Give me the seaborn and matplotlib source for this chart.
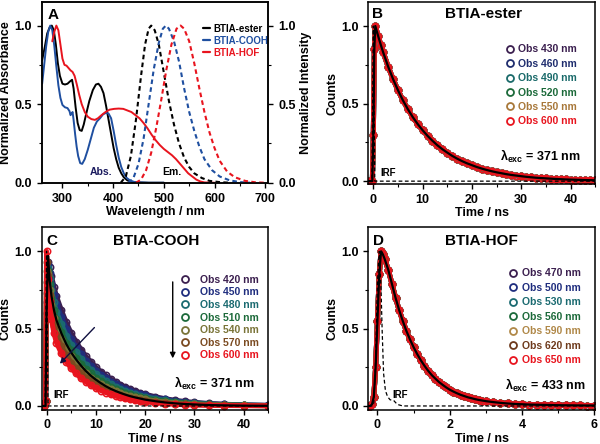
import matplotlib
matplotlib.use('Agg')
import matplotlib.pyplot as plt
from matplotlib.lines import Line2D
from matplotlib.ticker import MultipleLocator
import seaborn as sns

# ---------------- panel A: absorption (solid) / emission (dashed) ----------------
ester_abs_nm = [260, 265, 270, 275, 279, 283, 287, 291, 295, 300, 305, 310, 315, 319, 322, 326, 330, 334, 338,
                342, 347, 353, 360, 366, 371, 376, 381, 386, 391, 396, 401, 406, 411, 416, 421, 428, 436, 450, 470, 500]
ester_abs = [0.78, 0.86, 0.95, 0.99, 1.0, 0.97, 0.88, 0.76, 0.68, 0.63, 0.625, 0.63, 0.645, 0.655, 0.6, 0.48, 0.38,
             0.335, 0.33, 0.37, 0.44, 0.52, 0.59, 0.625, 0.63, 0.61, 0.57, 0.49, 0.40, 0.31, 0.22, 0.15, 0.095, 0.06,
             0.035, 0.015, 0.006, 0.002, 0.0, 0.0]
cooh_abs_nm = [260, 264, 268, 272, 276, 280, 284, 288, 292, 296, 300, 305, 310, 314, 316, 318, 320, 322, 325, 328,
               331, 335, 339, 344, 350, 356, 362, 368, 374, 380, 386, 391, 396, 401, 406, 411, 416, 421, 427, 434,
               442, 455, 470, 500]
cooh_abs = [0.63, 0.75, 0.87, 0.96, 1.0, 0.97, 0.87, 0.74, 0.62, 0.54, 0.495, 0.48, 0.475, 0.455, 0.43, 0.44, 0.45,
            0.40, 0.31, 0.23, 0.17, 0.125, 0.12, 0.15, 0.21, 0.28, 0.35, 0.39, 0.41, 0.435, 0.445, 0.44, 0.41, 0.33,
            0.24, 0.16, 0.10, 0.06, 0.03, 0.013, 0.005, 0.002, 0.0, 0.0]
hof_abs_nm = [280, 284, 288, 292, 296, 300, 304, 308, 312, 316, 320, 324, 328, 333, 338, 344, 350, 357, 364, 370,
              377, 385, 393, 402, 411, 420, 428, 436, 444, 452, 460, 468, 476, 484, 492, 500, 508, 516, 524, 532,
              540, 548, 556, 564, 572, 580, 600]
hof_abs = [0.9, 0.96, 1.0, 0.97, 0.88, 0.79, 0.75, 0.745, 0.73, 0.715, 0.705, 0.68, 0.63, 0.56, 0.5, 0.45, 0.42,
           0.405, 0.40, 0.41, 0.43, 0.45, 0.465, 0.47, 0.472, 0.47, 0.46, 0.45, 0.43, 0.41, 0.38, 0.345, 0.305,
           0.27, 0.24, 0.215, 0.195, 0.175, 0.15, 0.12, 0.09, 0.06, 0.04, 0.02, 0.008, 0.002, 0.0]

ester_em_nm = [415, 425, 435, 445, 455, 463, 470, 475, 482, 490, 500, 510, 520, 530, 540, 550, 560, 575, 590, 610, 630]
ester_em = [0.0, 0.04, 0.17, 0.40, 0.68, 0.88, 0.98, 1.0, 0.97, 0.88, 0.70, 0.52, 0.37, 0.25, 0.16, 0.10, 0.06,
            0.03, 0.012, 0.004, 0.0]
cooh_em_nm = [430, 440, 450, 460, 470, 480, 490, 498, 504, 510, 520, 530, 540, 550, 560, 570, 580, 595, 610, 630,
              650, 670]
cooh_em = [0.0, 0.03, 0.12, 0.28, 0.50, 0.72, 0.89, 0.98, 1.0, 0.98, 0.90, 0.77, 0.60, 0.45, 0.33, 0.23, 0.15,
           0.08, 0.04, 0.015, 0.004, 0.0]
hof_em_nm = [445, 455, 465, 475, 485, 495, 505, 515, 525, 533, 540, 550, 560, 570, 580, 590, 600, 610, 625, 640,
             660, 680, 700]
hof_em = [0.0, 0.02, 0.08, 0.19, 0.35, 0.53, 0.72, 0.88, 0.98, 1.0, 0.98, 0.90, 0.76, 0.60, 0.45, 0.32, 0.22,
          0.14, 0.07, 0.035, 0.012, 0.003, 0.0]

# ---------------- panel B: BTIA-ester decays ----------------
b_time = [-1, -0.5, -0.2, 0, 0.2, 0.4, 1, 1.5, 2, 3, 4, 5, 6, 7, 8, 9, 10, 11, 12, 13, 14, 15, 16, 17, 18, 19, 20,
          21, 22, 23, 24, 25, 26, 27, 28, 29, 30, 31, 32, 33, 34, 35, 36, 37, 38, 39, 40, 41, 42, 43, 44, 45]
b_counts = [0, 0, 0.0, 0.3, 0.85, 1.0, 0.933, 0.88, 0.83, 0.739, 0.658, 0.586, 0.521, 0.464, 0.413, 0.368, 0.328,
            0.292, 0.26, 0.231, 0.206, 0.184, 0.163, 0.145, 0.129, 0.115, 0.103, 0.091, 0.081, 0.072, 0.064, 0.057,
            0.051, 0.045, 0.040, 0.036, 0.032, 0.028, 0.025, 0.022, 0.020, 0.018, 0.016, 0.014, 0.0126, 0.011,
            0.010, 0.009, 0.008, 0.007, 0.0063, 0.0056]
b_labels = ['Obs 430 nm', 'Obs 460 nm', 'Obs 490 nm', 'Obs 520 nm', 'Obs 550 nm', 'Obs 600 nm']
b_colors = ['#3b1f4f', '#1f2d6e', '#1a6a6a', '#1c6a3a', '#a8783a', '#e8141e']
b_irf_t = [-1, -0.3, 0, 0.3, 45]
b_irf = [0, 0, 1.0, 0, 0]

# ---------------- panel C: BTIA-COOH decays ----------------
c_time = [-1, -0.5, -0.2, 0, 0.3, 0.6, 1, 1.5, 2, 3, 4, 5, 6, 7, 8, 9, 10, 11, 12, 13, 14, 15, 16, 17, 18, 19, 20,
          22, 24, 26, 28, 30, 33, 36, 40, 45]
c420 = [0, 0, 0.03, 0.6, 0.93, 0.9, 0.84, 0.77, 0.71, 0.62, 0.54, 0.47, 0.415, 0.365, 0.32, 0.285, 0.25, 0.222,
        0.197, 0.175, 0.155, 0.137, 0.122, 0.108, 0.096, 0.085, 0.076, 0.06, 0.047, 0.037, 0.029, 0.023, 0.016,
        0.011, 0.007, 0.004]
c450 = [0, 0, 0.03, 0.67, 0.91, 0.86, 0.79, 0.72, 0.66, 0.575, 0.50, 0.43, 0.38, 0.334, 0.292, 0.26, 0.228, 0.201,
        0.178, 0.158, 0.14, 0.123, 0.11, 0.097, 0.086, 0.076, 0.068, 0.053, 0.042, 0.033, 0.025, 0.02, 0.014, 0.01,
        0.006, 0.0035]
c480 = [0, 0, 0.03, 0.73, 0.89, 0.83, 0.75, 0.67, 0.61, 0.53, 0.455, 0.395, 0.347, 0.304, 0.265, 0.235, 0.206,
        0.181, 0.16, 0.142, 0.125, 0.11, 0.098, 0.086, 0.076, 0.067, 0.06, 0.047, 0.036, 0.028, 0.022, 0.017, 0.012,
        0.008, 0.005, 0.003]
c510 = [0, 0, 0.03, 0.8, 0.875, 0.79, 0.70, 0.62, 0.56, 0.48, 0.41, 0.36, 0.31, 0.272, 0.238, 0.21, 0.183, 0.161,
        0.142, 0.125, 0.11, 0.097, 0.086, 0.075, 0.066, 0.058, 0.052, 0.04, 0.031, 0.024, 0.019, 0.015, 0.01, 0.007,
        0.0045, 0.0025]
c540 = [0, 0, 0.03, 0.87, 0.855, 0.75, 0.65, 0.57, 0.51, 0.43, 0.37, 0.32, 0.278, 0.241, 0.21, 0.184, 0.16, 0.14,
        0.123, 0.108, 0.095, 0.083, 0.073, 0.064, 0.056, 0.049, 0.043, 0.033, 0.026, 0.02, 0.015, 0.012, 0.008,
        0.006, 0.0035, 0.002]
c570 = [0, 0, 0.03, 0.93, 0.84, 0.72, 0.61, 0.52, 0.46, 0.385, 0.33, 0.28, 0.245, 0.21, 0.183, 0.16, 0.138, 0.12,
        0.105, 0.092, 0.08, 0.07, 0.061, 0.053, 0.046, 0.04, 0.035, 0.027, 0.02, 0.015, 0.012, 0.009, 0.006, 0.004,
        0.003, 0.0015]
c600 = [0, 0, 0.03, 1.0, 0.82, 0.68, 0.56, 0.47, 0.41, 0.34, 0.285, 0.245, 0.21, 0.18, 0.155, 0.134, 0.116, 0.1,
        0.087, 0.075, 0.065, 0.056, 0.049, 0.042, 0.036, 0.031, 0.027, 0.02, 0.015, 0.011, 0.008, 0.006, 0.004,
        0.003, 0.002, 0.001]
c_fit = [0, 0, 0, 0.6, 0.97, 0.82, 0.71, 0.62, 0.555, 0.47, 0.40, 0.345, 0.30, 0.26, 0.225, 0.195, 0.17, 0.148,
         0.128, 0.111, 0.097, 0.084, 0.073, 0.063, 0.055, 0.048, 0.041, 0.031, 0.023, 0.017, 0.013, 0.01, 0.006,
         0.004, 0.002, 0.001]
c_labels = ['Obs 420 nm', 'Obs 450 nm', 'Obs 480 nm', 'Obs 510 nm', 'Obs 540 nm', 'Obs 570 nm', 'Obs 600 nm']
c_colors = ['#3b1f4f', '#1f2d7e', '#1a6a70', '#1c6a3a', '#7a7438', '#7a4a20', '#e8141e']
c_irf_t = [-1, -0.3, 0, 0.3, 45]
c_irf = [0, 0, 1.0, 0, 0]

# ---------------- panel D: BTIA-HOF decays ----------------
d_time = [-0.25, -0.2, -0.15, -0.1, -0.05, 0, 0.05, 0.1, 0.15, 0.2, 0.3, 0.4, 0.5, 0.6, 0.7, 0.8, 0.9, 1.0, 1.1,
          1.2, 1.3, 1.4, 1.5, 1.6, 1.7, 1.8, 1.9, 2.0, 2.1, 2.2, 2.3, 2.4, 2.5, 2.6, 2.7, 2.8, 2.9, 3.0, 3.2, 3.4,
          3.6, 3.8, 4.0, 4.2, 4.4, 4.6, 4.8, 5.0, 5.2, 5.4, 5.6, 5.8, 6.0]
d_counts = [0, 0.0, 0.01, 0.06, 0.25, 0.55, 0.85, 1.0, 0.98, 0.95, 0.88, 0.79, 0.70, 0.62, 0.55, 0.485, 0.43, 0.38,
            0.335, 0.295, 0.26, 0.228, 0.2, 0.177, 0.155, 0.137, 0.12, 0.105, 0.093, 0.082, 0.072, 0.064, 0.056,
            0.05, 0.044, 0.039, 0.035, 0.031, 0.025, 0.02, 0.016, 0.013, 0.011, 0.009, 0.008, 0.007, 0.006, 0.005,
            0.0045, 0.004, 0.0035, 0.003, 0.003]
d_labels = ['Obs 470 nm', 'Obs 500 nm', 'Obs 530 nm', 'Obs 560 nm', 'Obs 590 nm', 'Obs 620 nm', 'Obs 650 nm']
d_colors = ['#3b1f4f', '#1f2d7e', '#1a6a70', '#1c6a3a', '#b08848', '#6e3a1c', '#e8141e']
d_irf_t = [-0.25, -0.15, -0.1, -0.05, 0, 0.05, 0.1, 0.13, 0.17, 0.22, 0.28, 0.35, 0.45, 0.55, 0.7, 6.0]
d_irf = [0, 0, 0.02, 0.3, 0.8, 1.0, 0.75, 0.49, 0.21, 0.1, 0.06, 0.04, 0.035, 0.01, 0, 0]

BLACK, BLUE, RED = '#000000', '#1f4fa0', '#e8141e'

sns.set_style('ticks', {'axes.edgecolor': 'black', 'xtick.color': 'black', 'ytick.color': 'black',
                        'text.color': 'black', 'axes.labelcolor': 'black'})
plt.rcParams['font.family'] = ['Liberation Sans', 'DejaVu Sans']
plt.rcParams['font.weight'] = 'bold'
plt.rcParams['axes.labelweight'] = 'bold'
plt.rcParams['axes.linewidth'] = 1.1
plt.rcParams['xtick.major.width'] = 1.0
plt.rcParams['ytick.major.width'] = 1.0
plt.rcParams['xtick.minor.width'] = 0.8
plt.rcParams['ytick.minor.width'] = 0.8
plt.rcParams['xtick.major.size'] = 3.5
plt.rcParams['ytick.major.size'] = 3.5
plt.rcParams['xtick.minor.size'] = 2
plt.rcParams['ytick.minor.size'] = 2
plt.rcParams['xtick.labelsize'] = 9
plt.rcParams['ytick.labelsize'] = 9
plt.rcParams['axes.labelsize'] = 9
plt.rcParams['mathtext.fontset'] = 'custom'
plt.rcParams['mathtext.rm'] = 'Liberation Sans:bold'
plt.rcParams['mathtext.bf'] = 'Liberation Sans:bold'

fig = plt.figure(figsize=(6, 4.44), dpi=100)
axA = fig.add_axes([0.0694, 0.587, 0.3778, 0.4085])
axB = fig.add_axes([0.614, 0.585, 0.378, 0.4105])
axC = fig.add_axes([0.0694, 0.0773, 0.3778, 0.4114])
axD = fig.add_axes([0.614, 0.0773, 0.378, 0.4114])

# ----- panel A -----
axA2 = axA.twinx()
for nm, val, c in [(ester_abs_nm, ester_abs, BLACK), (cooh_abs_nm, cooh_abs, BLUE), (hof_abs_nm, hof_abs, RED)]:
    sns.lineplot(x=nm, y=val, ax=axA, color=c, lw=1.4)
for nm, val, c in [(ester_em_nm, ester_em, BLACK), (cooh_em_nm, cooh_em, BLUE), (hof_em_nm, hof_em, RED)]:
    sns.lineplot(x=nm, y=val, ax=axA2, color=c, lw=1.5, linestyle=(0, (2.2, 1.6)))
for a in (axA, axA2):
    a.set_xlim(259, 706)
    a.set_ylim(-0.004, 1.15)
    a.yaxis.set_major_locator(MultipleLocator(0.5))
    a.yaxis.set_minor_locator(MultipleLocator(0.25))
    a.yaxis.set_major_formatter(matplotlib.ticker.FormatStrFormatter('%.1f'))
axA.xaxis.set_major_locator(MultipleLocator(100))
axA.xaxis.set_minor_locator(MultipleLocator(50))
axA.set_xlabel('Wavelength / nm', labelpad=1)
axA.set_ylabel('Normalized Absorbance', labelpad=2)
axA2.set_ylabel('Normalized Intensity', labelpad=3)
hA = [Line2D([], [], color=c, lw=1.6) for c in (BLACK, BLUE, RED)]
axA.legend(hA, ['BTIA-ester', 'BTIA-COOH', 'BTIA-HOF'], loc='upper left', bbox_to_anchor=(0.71, 0.88),
           frameon=False, fontsize=7, labelcolor=[BLACK, BLUE, RED], handlelength=0.8, handletextpad=0.35,
           labelspacing=0.2, borderpad=0, borderaxespad=0)
axA.text(377, 0.07, 'Abs.', color='#1a1a5e', fontsize=7.5, ha='center', va='center')
axA.text(515, 0.07, 'Em.', color='black', fontsize=7.5, ha='center', va='center')
axA.text(0.028, 0.967, 'A', transform=axA.transAxes, fontsize=11, va='top', ha='left')


def decay_panel(ax, t, series, colors, fit_t, fit_y, irf_t, irf_y):
    for y, c in zip(series, colors):
        sns.lineplot(x=t, y=y, ax=ax, color=c, lw=3.6, marker='o', markersize=4.6, markerfacecolor='none',
                     markeredgecolor=c, markeredgewidth=1.1)
    sns.lineplot(x=fit_t, y=fit_y, ax=ax, color='black', lw=1.6)
    sns.lineplot(x=irf_t, y=irf_y, ax=ax, color='black', lw=0.9, linestyle=(0, (3, 2)))
    ax.yaxis.set_major_locator(MultipleLocator(0.5))
    ax.yaxis.set_minor_locator(MultipleLocator(0.25))
    ax.yaxis.set_major_formatter(matplotlib.ticker.FormatStrFormatter('%.1f'))
    ax.set_ylabel('Counts', labelpad=2)
    ax.set_xlabel('Time / ns', labelpad=1)


def obs_legend(ax, labels, colors, x, y, spacing, pad):
    h = [Line2D([], [], ls='none', marker='o', ms=5, mfc='none', mec=c, mew=1.3) for c in colors]
    ax.legend(h, labels, loc='upper left', bbox_to_anchor=(x, y), frameon=False, fontsize=7.5,
              labelcolor=colors, handlelength=0.8, handletextpad=pad, labelspacing=spacing,
              borderpad=0, borderaxespad=0)


# ----- panel B -----
decay_panel(axB, b_time, [b_counts] * len(b_colors), b_colors, b_time, b_counts, b_irf_t, b_irf)
axB.set_xlim(-1, 45)
axB.set_ylim(-0.02, 1.155)
axB.xaxis.set_major_locator(MultipleLocator(10))
axB.xaxis.set_minor_locator(MultipleLocator(5))
obs_legend(axB, b_labels, b_colors, 0.606, 0.767, 0.42, 0.4)
axB.text(0.015, 0.97, 'B', transform=axB.transAxes, fontsize=11, va='top', ha='left')
axB.text(0.507, 0.97, 'BTIA-ester', transform=axB.transAxes, fontsize=11, va='top', ha='center')
axB.text(0.934, 0.152, r'λ$_{\mathbf{exc}}$ = 371 nm', transform=axB.transAxes, fontsize=9, ha='right',
         va='center')
axB.text(1.4, 0.05, 'IRF', fontsize=7, ha='left', va='center')

# ----- panel C -----
decay_panel(axC, c_time, [c420, c450, c480, c510, c540, c570, c600], c_colors, c_time, c_fit, c_irf_t, c_irf)
axC.set_xlim(-1, 45)
axC.set_ylim(-0.024, 1.157)
axC.xaxis.set_major_locator(MultipleLocator(10))
axC.xaxis.set_minor_locator(MultipleLocator(5))
obs_legend(axC, c_labels, c_colors, 0.614, 0.738, 0.25, 1.0)
axC.annotate('', xy=(2.3, 0.26), xytext=(10.1, 0.52),
             arrowprops=dict(arrowstyle='-|>', color='#101040', lw=1.0, mutation_scale=8))
axC.annotate('', xy=(25.6, 0.29), xytext=(25.6, 0.82),
             arrowprops=dict(arrowstyle='-|>', color='black', lw=1.0, mutation_scale=8))
axC.text(0.022, 0.963, 'C', transform=axC.transAxes, fontsize=11, va='top', ha='left')
axC.text(0.507, 0.963, 'BTIA-COOH', transform=axC.transAxes, fontsize=11, va='top', ha='center')
axC.text(0.941, 0.142, r'λ$_{\mathbf{exc}}$ = 371 nm', transform=axC.transAxes, fontsize=9, ha='right',
         va='center')
axC.text(1.35, 0.07, 'IRF', fontsize=7, ha='left', va='center')

# ----- panel D -----
decay_panel(axD, d_time, [d_counts] * len(d_colors), d_colors, d_time, d_counts, d_irf_t, d_irf)
axD.set_xlim(-0.25, 6.02)
axD.set_ylim(-0.024, 1.157)
axD.xaxis.set_major_locator(MultipleLocator(2))
axD.xaxis.set_minor_locator(MultipleLocator(1))
obs_legend(axD, d_labels, d_colors, 0.62, 0.774, 0.43, 0.4)
axD.text(0.02, 0.963, 'D', transform=axD.transAxes, fontsize=11, va='top', ha='left')
axD.text(0.5, 0.963, 'BTIA-HOF', transform=axD.transAxes, fontsize=11, va='top', ha='center')
axD.text(0.956, 0.134, r'λ$_{\mathbf{exc}}$ = 433 nm', transform=axD.transAxes, fontsize=9, ha='right',
         va='center')
axD.text(0.4, 0.07, 'IRF', fontsize=7, ha='left', va='center')

fig.savefig('out.png', dpi=100)
